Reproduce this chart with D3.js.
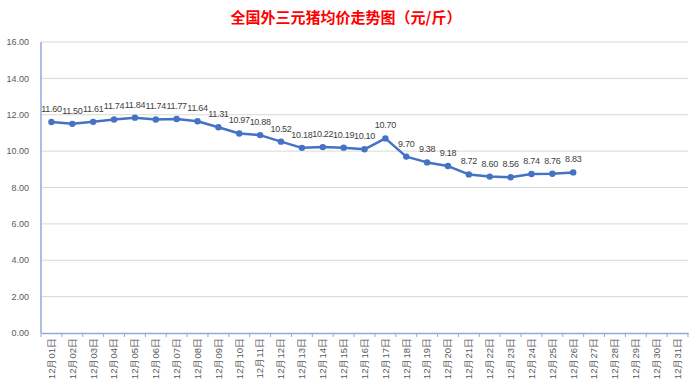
<!DOCTYPE html>
<html>
<head>
<meta charset="utf-8">
<script src="https://cdn.jsdelivr.net/npm/d3@7"></script>
<style>
  body { margin: 0; background: #fff; }
  svg { font-family: "Noto Sans CJK SC", "Liberation Sans", sans-serif; }
</style>
</head>
<body>
<div id="chart"></div>
<script>
// dates 12月01日 .. 12月31日
var days = [];
for (var i = 1; i <= 31; i++) days.push("12月" + (i < 10 ? "0" + i : i) + "日");

// price, only first 26 days have data
var prices = [11.60, 11.50, 11.61, 11.74, 11.84, 11.74, 11.77, 11.64, 11.31, 10.97,
              10.88, 10.52, 10.18, 10.22, 10.19, 10.10, 10.70, 9.70, 9.38, 9.18,
              8.72, 8.60, 8.56, 8.74, 8.76, 8.83];

var yTicks = [0, 2, 4, 6, 8, 10, 12, 14, 16];

var W = 700, H = 386;
var margin = {top: 42, right: 12, bottom: 53, left: 41},
    width = W - margin.left - margin.right,
    height = H - margin.top - margin.bottom;

var svg = d3.select("#chart").append("svg")
    .attr("width", W)
    .attr("height", H);

svg.append("text")
    .attr("x", 346)
    .attr("y", 23)
    .attr("text-anchor", "middle")
    .style("font-size", "15px")
    .style("font-weight", "bold")
    .style("fill", "#ff0000")
    .text("全国外三元猪均价走势图（元/斤）");

var g = svg.append("g")
    .attr("transform", "translate(" + margin.left + "," + margin.top + ")");

var x = d3.scaleBand().domain(days).range([0, width]);
var y = d3.scaleLinear().domain([0, 16]).range([height, 0]);

// gridlines
g.selectAll(".grid")
    .data(yTicks.slice(1))
    .enter().append("line")
    .attr("x1", 0)
    .attr("x2", width)
    .attr("y1", function (d) { return y(d); })
    .attr("y2", function (d) { return y(d); })
    .style("stroke", "#d9d9d9")
    .style("stroke-width", 1);

// y labels
g.selectAll(".ylab")
    .data(yTicks)
    .enter().append("text")
    .attr("x", -12)
    .attr("y", function (d) { return y(d); })
    .attr("dy", "0.35em")
    .attr("text-anchor", "end")
    .style("font-size", "9px")
    .style("fill", "#595959")
    .style("font-family", "Liberation Sans, sans-serif")
    .text(function (d) { return d.toFixed(2); });

// y axis line
g.append("line")
    .attr("x1", 0).attr("x2", 0)
    .attr("y1", 0).attr("y2", height)
    .style("stroke", "#8faadc")
    .style("stroke-width", 1.5);

// x axis
var xAxis = d3.axisBottom(x).tickSize(4).tickSizeOuter(0);
var xg = g.append("g")
    .attr("transform", "translate(0," + height + ")")
    .call(xAxis);
xg.select(".domain").style("stroke", "#8faadc").style("stroke-width", 1.5);
// ticks at band edges
xg.selectAll(".tick line").remove();
g.selectAll(".xtick")
    .data(days.concat(["end"]))
    .enter().append("line")
    .attr("x1", function (d, i) { return i * x.step(); })
    .attr("x2", function (d, i) { return i * x.step(); })
    .attr("y1", height)
    .attr("y2", height + 4)
    .style("stroke", "#8faadc");
xg.selectAll(".tick text")
    .attr("transform", "rotate(-90)")
    .attr("x", -5)
    .attr("y", 0)
    .attr("dy", "0.35em")
    .attr("text-anchor", "end")
    .style("font-size", "9.5px")
    .style("fill", "#595959");

// line
var line = d3.line()
    .x(function (d, i) { return x(days[i]) + x.bandwidth() / 2; })
    .y(function (d) { return y(d); });

g.append("path")
    .datum(prices)
    .attr("d", line)
    .style("fill", "none")
    .style("stroke", "#4472c4")
    .style("stroke-width", 2.5)
    .style("stroke-linejoin", "round");

g.selectAll(".dot")
    .data(prices)
    .enter().append("circle")
    .attr("cx", function (d, i) { return x(days[i]) + x.bandwidth() / 2; })
    .attr("cy", function (d) { return y(d); })
    .attr("r", 3.2)
    .style("fill", "#4472c4");

g.selectAll(".lab")
    .data(prices)
    .enter().append("text")
    .attr("x", function (d, i) { return x(days[i]) + x.bandwidth() / 2; })
    .attr("y", function (d) { return y(d) - 10; })
    .attr("text-anchor", "middle")
    .style("font-size", "9px")
    .style("letter-spacing", "-0.3px")
    .style("fill", "#404040")
    .style("font-family", "Liberation Sans, sans-serif")
    .text(function (d) { return d.toFixed(2); });
</script>
</body>
</html>
